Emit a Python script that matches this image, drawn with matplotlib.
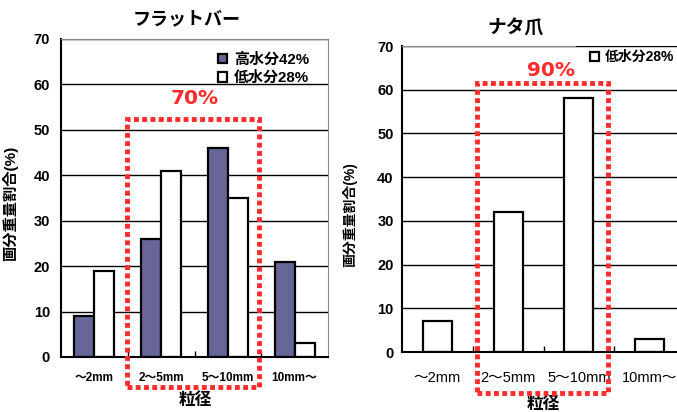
import numpy as np
import matplotlib
matplotlib.use('Agg')
import matplotlib.pyplot as plt
import matplotlib.patches as patches

plt.rcParams['font.family'] = ['Liberation Sans', 'Noto Sans CJK JP', 'DejaVu Sans']

# data
categories = ['～2mm', '2～5mm', '5～10mm', '10mm～']
flat_high = [9, 26, 46, 21]     # 高水分42%
flat_low = [19, 41, 35, 3]      # 低水分28%
nata_low = [7, 32, 58, 3]       # 低水分28%
yticks = [0, 10, 20, 30, 40, 50, 60, 70]

BLUE = '#666699'
RED = '#ff2a2a'

fig = plt.figure(figsize=(6.77, 4.12), dpi=100)
W, H = 677, 412


def px_axes(l, t, r, b):
    return fig.add_axes([l / W, 1 - b / H, (r - l) / W, (b - t) / H])


def setup(ax, pad_y, pad_x, xsize, xweight, ysize):
    x = np.arange(len(categories))
    ax.set_xlim(-0.5, len(categories) - 0.5)
    ax.set_ylim(0, 70)
    ax.set_yticks(yticks)
    ax.set_yticklabels([str(v) for v in yticks], fontsize=ysize, fontweight='bold')
    ax.tick_params(axis='y', length=0, pad=pad_y)
    ax.set_xticks(x[:-1] + 0.5)
    ax.set_xticklabels([])
    ax.tick_params(axis='x', which='major', direction='in', length=4, width=1)
    ax.set_xticks(x, minor=True)
    ax.set_xticklabels(categories, minor=True, fontsize=xsize, fontweight=xweight)
    ax.tick_params(axis='x', which='minor', length=0, pad=pad_x)
    ax.yaxis.grid(True, color='black', lw=1)
    ax.set_axisbelow(True)
    ax.spines['left'].set_linewidth(1.5)
    ax.spines['bottom'].set_linewidth(1.5)
    return x


# ---- left chart: フラットバー
ax1 = px_axes(61, 39, 328, 357)
x = setup(ax1, 8, 11, 8.5, 'bold', 10.5)
w = 0.3
ax1.bar(x - w / 2, flat_high, w, color=BLUE, edgecolor='black', lw=1.6, label='高水分42%')
ax1.bar(x + w / 2, flat_low, w, color='white', edgecolor='black', lw=1.6, label='低水分28%')
for s in ['top', 'right']:
    ax1.spines[s].set_color('#888888')
ax1.legend(loc='upper right', bbox_to_anchor=(0.98, 1.0), frameon=False,
           handlelength=0.6, handleheight=0.6, handletextpad=0.5, labelspacing=0.3,
           prop={'size': 10.8, 'weight': 'bold'})
ax1.text(0.472, 1.06, 'フラットバー', transform=ax1.transAxes, ha='center', va='center',
         fontsize=13, fontweight='bold')
ax1.set_ylabel('画分重量割合(%)', fontsize=11, fontweight='bold')
ax1.yaxis.set_label_coords(-0.161, 0.484)
ax1.set_xlabel('粒径', fontsize=12, fontweight='bold', va='center')
ax1.xaxis.set_label_coords(0.502, -0.135)
ax1.add_patch(patches.Rectangle((0.49, -6.6), 1.98, 59.0, fill=False, ec=RED, lw=3.5,
                                ls=(0, (1, 0.7)), clip_on=False, zorder=6))
ax1.text(1.507, 57.0, '70%', ha='center', va='center', color=RED, fontsize=14.5,
         fontweight='bold', family='DejaVu Sans')

# ---- right chart: ナタ爪
ax2 = px_axes(402, 46, 685, 352)
x = setup(ax2, 6, 14, 10.5, 'normal', 10.5)
ax2.bar(x, nata_low, 0.41, color='white', edgecolor='black', lw=1.6, label='低水分28%')
ax2.spines['right'].set_visible(False)
ax2.spines['top'].set_color('#888888')
ax2.spines['top'].set_bounds(-0.5, 1.95)
ax2.legend(loc='center left', bbox_to_anchor=(0.665, 0.964), frameon=False, borderpad=0,
           borderaxespad=0, handlelength=0.6, handleheight=0.6, handletextpad=0.45,
           prop={'size': 10, 'weight': 'bold'})
ax2.text(0.40, 1.059, 'ナタ爪', transform=ax2.transAxes, ha='center', va='center',
         fontsize=13.5, fontweight='bold')
ax2.set_ylabel('画分重量割合(%)', fontsize=10, fontweight='bold')
ax2.yaxis.set_label_coords(-0.159, 0.448)
ax2.set_xlabel('粒径', fontsize=12, fontweight='bold', va='center')
ax2.xaxis.set_label_coords(0.5, -0.17)
ax2.add_patch(patches.Rectangle((0.56, -9.4), 1.85, 70.9, fill=False, ec=RED, lw=3.5,
                                ls=(0, (1, 0.7)), clip_on=False, zorder=6))
ax2.text(1.606, 64.5, '90%', ha='center', va='center', color=RED, fontsize=14.5,
         fontweight='bold', family='DejaVu Sans')

fig.savefig('out.png', dpi=100)
